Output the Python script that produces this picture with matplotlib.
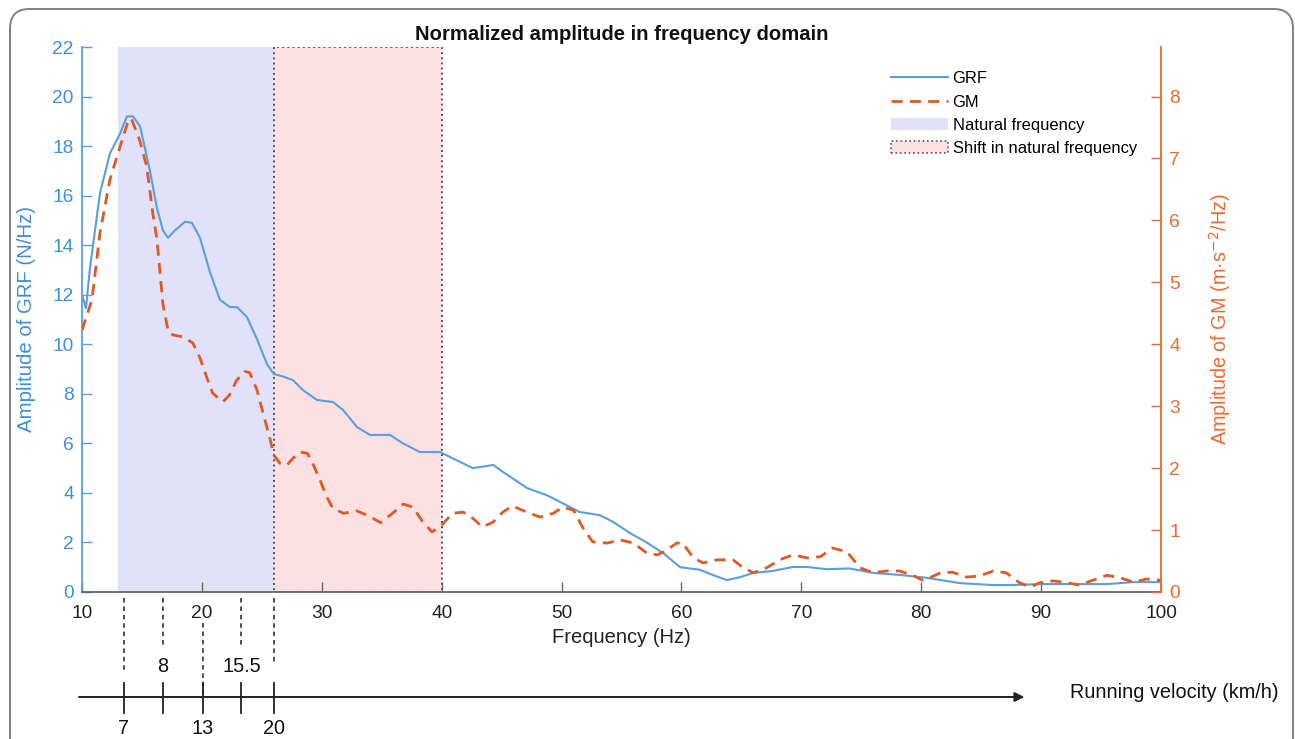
import matplotlib
matplotlib.use("Agg")
import matplotlib.pyplot as plt
import matplotlib.transforms as mtransforms
from matplotlib.patches import Rectangle, FancyBboxPatch, Patch
from matplotlib.lines import Line2D

plt.rcParams['font.family'] = ['Liberation Sans', 'DejaVu Sans']

# GRF amplitude (N/Hz) vs frequency (Hz)
grf_freq = [10, 10.33, 10.67, 11.5, 12.33, 13.17, 13.75, 14.25, 14.84, 15.67, 16.25, 16.75,
            17.17, 17.76, 18.6, 19.17, 19.84, 20.68, 21.5, 22.34, 22.93, 23.76, 24.6, 25.43,
            26.0, 26.76, 27.6, 28.43, 29.6, 30.93, 31.77, 32.94, 34.02, 35.69, 36.77, 38.19,
            39.86, 40.9, 42.6, 44.3, 45.1, 47.1, 48.8, 50.1, 51.5, 53.2, 54.3, 55.7, 57.1,
            58.5, 59.9, 61.5, 62.6, 63.8, 64.9, 66.0, 67.6, 69.3, 70.5, 72.1, 74.0, 76.0,
            78.2, 80.5, 83.2, 86.0, 87.6, 89.9, 92.7, 95.5, 97.7, 100]
grf_amp = [12.0, 11.45, 13.1, 16.1, 17.7, 18.5, 19.2, 19.2, 18.8, 17.0, 15.5, 14.6,
           14.3, 14.6, 14.95, 14.9, 14.3, 12.9, 11.8, 11.5, 11.5, 11.1, 10.2, 9.2,
           8.8, 8.7, 8.55, 8.15, 7.75, 7.67, 7.35, 6.66, 6.34, 6.34, 6.0, 5.65,
           5.65, 5.4, 5.0, 5.13, 4.85, 4.2, 3.9, 3.58, 3.23, 3.1, 2.83, 2.38, 2.0,
           1.56, 1.0, 0.9, 0.69, 0.48, 0.6, 0.77, 0.85, 1.01, 1.01, 0.92, 0.95, 0.77,
           0.69, 0.57, 0.36, 0.28, 0.28, 0.32, 0.32, 0.32, 0.4, 0.4]

# GM amplitude (m/s^2/Hz) vs frequency (Hz)
gm_freq = [10, 10.83, 11.5, 12.33, 13.17, 13.8, 14.1, 14.8, 15.4, 15.9, 16.25, 16.75,
           17.2, 17.6, 18.4, 19.25, 19.84, 20.4, 20.9, 21.75, 22.3, 22.9, 23.6, 24.0,
           24.6, 25.1, 25.7, 26.0, 26.5, 27.1, 27.6, 28.2, 28.8, 29.3, 29.85, 30.4,
           30.9, 31.8, 32.9, 33.8, 34.9, 35.9, 36.8, 37.6, 38.4, 39.2, 40.0, 40.9,
           41.8, 42.6, 43.4, 44.3, 45.1, 45.9, 47.1, 48.2, 49.3, 50.1, 51.0, 51.8,
           52.6, 53.8, 54.9, 56.0, 57.1, 58.0, 58.8, 59.6, 60.1, 61.0, 61.8, 63.0,
           64.3, 65.1, 66.0, 67.1, 68.2, 69.3, 70.5, 71.6, 72.6, 73.8, 74.9, 76.0,
           77.1, 78.2, 79.3, 80.1, 80.7, 81.6, 82.6, 83.8, 84.9, 86.0, 87.1, 88.2,
           89.1, 89.9, 91.0, 92.2, 93.2, 94.3, 95.5, 96.6, 97.7, 98.8, 100]
gm_amp = [4.23, 4.72, 5.8, 6.66, 7.19, 7.57, 7.65, 7.3, 6.87, 6.12, 5.69, 4.65,
          4.2, 4.15, 4.12, 4.02, 3.78, 3.47, 3.21, 3.07, 3.18, 3.42, 3.56, 3.54,
          3.26, 2.89, 2.46, 2.21, 2.08, 2.05, 2.16, 2.26, 2.24, 2.05, 1.81, 1.54,
          1.36, 1.27, 1.31, 1.24, 1.12, 1.27, 1.42, 1.37, 1.14, 0.97, 1.08, 1.27,
          1.29, 1.19, 1.05, 1.13, 1.29, 1.39, 1.29, 1.21, 1.27, 1.37, 1.32, 1.03,
          0.81, 0.79, 0.84, 0.79, 0.63, 0.6, 0.68, 0.79, 0.79, 0.55, 0.47, 0.52,
          0.52, 0.40, 0.31, 0.39, 0.52, 0.6, 0.55, 0.57, 0.71, 0.65, 0.39, 0.31,
          0.34, 0.34, 0.27, 0.19, 0.23, 0.31, 0.32, 0.24, 0.26, 0.34, 0.31, 0.15,
          0.08, 0.15, 0.18, 0.15, 0.11, 0.19, 0.27, 0.23, 0.16, 0.21, 0.19]

natural_band = (13, 26)
shift_band = (26, 40)

# running velocity (km/h) and the matching frequency (Hz)
velocities = ['7', '8', '13', '15.5', '20']
velocity_freq = [13.5, 16.75, 20.1, 23.3, 26]

W, H = 1295, 739
BLUE_LINE = '#5A9FDD'
BLUE_TXT = '#3F8FD6'
ORANGE_LINE = '#DD5A24'
ORANGE_TXT = '#E66C35'

fig = plt.figure(figsize=(W / 100, H / 100), dpi=100)

def px(x, y):
    return x / W, 1 - y / H

# panel frame
frame = FancyBboxPatch(px(10, 770), (1283) / W, (770 - 9) / H,
                       boxstyle="round,pad=0,rounding_size=0.015",
                       transform=fig.transFigure, fill=False,
                       edgecolor='#808080', linewidth=1.4, mutation_aspect=W / H)
fig.add_artist(frame)

ax = fig.add_axes([82 / W, 1 - 592 / H, (1161 - 82) / W, (592 - 47) / H])
ax2 = ax.twinx()

ax.axvspan(*natural_band, color='#E1E1FA', lw=0, zorder=0)
ax.add_patch(Rectangle((shift_band[0], 0), shift_band[1] - shift_band[0], 22,
                       facecolor='#FDE1E2', edgecolor='#555555', ls=':', lw=1.4, zorder=0.5))

ax.plot(grf_freq, grf_amp, color=BLUE_LINE, lw=1.5, zorder=2)
ax2.plot(gm_freq, gm_amp, color=ORANGE_LINE, lw=2, ls=(0, (4, 2.6)))

ax.set_xlim(10, 100)
ax.set_ylim(0, 22)
ax2.set_ylim(0, 8.8)
ax.set_xticks(range(10, 101, 10))
ax.set_yticks(range(0, 23, 2))
ax2.set_yticks(range(0, 9))

ax.spines['top'].set_visible(False)
ax2.spines['top'].set_visible(False)
ax.spines['right'].set_visible(False)
ax2.spines['left'].set_visible(False)
ax2.spines['bottom'].set_visible(False)
ax.spines['left'].set_color(BLUE_LINE)
ax2.spines['right'].set_color(ORANGE_TXT)
ax.spines['bottom'].set_color('#666666')
for sp in ax.spines.values():
    sp.set_linewidth(1.3)
ax2.spines['right'].set_linewidth(1.3)

ax.tick_params(axis='x', direction='in', length=7, width=1, color='#666666',
               labelsize=13.8, labelcolor='#222222', pad=9)
ax.tick_params(axis='y', direction='in', length=7, width=1, color=BLUE_LINE,
               labelsize=13.8, labelcolor=BLUE_TXT, pad=6)
ax2.tick_params(axis='y', direction='in', length=7, width=1, color=ORANGE_TXT,
                labelsize=13.8, labelcolor=ORANGE_TXT, pad=6)

ax.set_xlabel('Frequency (Hz)', fontsize=14.5, color='#222222')
ax.xaxis.set_label_coords(0.5, -0.066)
ax.set_ylabel('Amplitude of GRF (N/Hz)', fontsize=14.7, color=BLUE_TXT)
ax.yaxis.set_label_coords(-0.043, 0.5)
ax2.set_ylabel('Amplitude of GM (m\u00b7s$^{-2}$/Hz)', fontsize=14.3, color=ORANGE_TXT)
ax2.yaxis.set_label_coords(1.043, 0.5)
ax.set_title('Normalized amplitude in frequency domain', fontsize=14.6,
             fontweight='bold', pad=5, color='#111111')

handles = [Line2D([], [], color=BLUE_LINE, lw=1.5),
           Line2D([], [], color=ORANGE_LINE, lw=2, ls=(0, (4, 2.6))),
           Patch(facecolor='#E1E1FA', edgecolor='none'),
           Patch(facecolor='#FDE1E2', edgecolor='#555555', ls=':', lw=1.2)]
labels = ['GRF', 'GM', 'Natural frequency', 'Shift in natural frequency']
ax2.legend(handles, labels, loc='upper right', frameon=False, fontsize=11.9,
           bbox_to_anchor=px(1145, 63), bbox_transform=fig.transFigure,
           handlelength=3.4, handletextpad=0.3, labelspacing=0.5, borderpad=0)

# running velocity axis below
trans = mtransforms.blended_transform_factory(ax.transData, fig.transFigure)
dash_spans = [(598, 673), (598, 648), (623, 697), (598, 647), (598, 665)]
label_above = [False, True, False, True, False]
for v, f, (y0, y1), above in zip(velocities, velocity_freq, dash_spans, label_above):
    fig.add_artist(Line2D([f, f], [1 - y0 / H, 1 - y1 / H], transform=trans,
                          color='#222222', lw=1.1, ls=(0, (3, 2.5))))
    fig.add_artist(Line2D([f, f], [1 - 683 / H, 1 - 713 / H], transform=trans,
                          color='#222222', lw=1.3))
    ty = 667 if above else 729
    fig.text(f, 1 - ty / H, v, transform=trans, ha='center', va='center',
             fontsize=14.3, color='#111111')

ax.annotate('', xy=(88.6, 1 - 697 / H), xytext=(9.75, 1 - 697 / H),
            xycoords=trans, textcoords=trans, annotation_clip=False,
            arrowprops=dict(arrowstyle='-|>', color='#222222', lw=1.4,
                            mutation_scale=14, shrinkA=0, shrinkB=0))
fig.text(1070 / W, 1 - 693 / H, 'Running velocity (km/h)', ha='left', va='center',
         fontsize=14.3, color='#111111')

fig.savefig('out.png', dpi=100)
